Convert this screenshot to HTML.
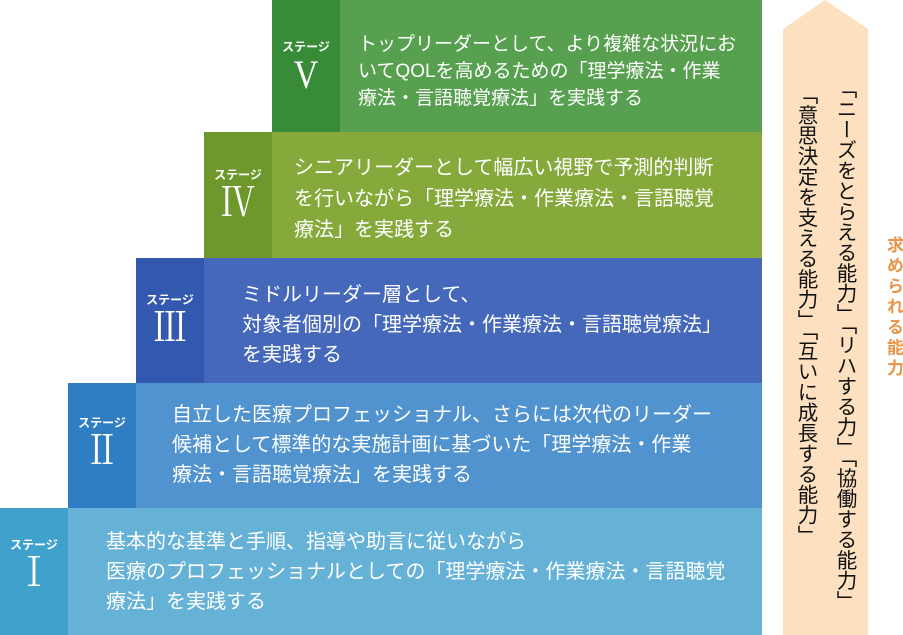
<!DOCTYPE html>
<html><head><meta charset="utf-8"><style>
body{margin:0;width:903px;height:635px;background:#fff;position:relative;overflow:hidden;font-family:"Liberation Sans","Noto Sans CJK JP",sans-serif;}
.b{position:absolute;}
.lab{position:absolute;color:#fff;text-align:center;}
.lab .s{font-size:12px;font-weight:bold;}
.lab .r{font-family:"Liberation Serif","Noto Serif CJK SC",serif;font-size:40px;line-height:40px;transform:scaleX(0.85);}
.tx{position:absolute;color:#fff;font-size:20px;line-height:30px;white-space:nowrap;}
.v{position:absolute;writing-mode:vertical-rl;font-size:20.5px;line-height:21px;color:#111;white-space:nowrap;}
</style></head><body>
<div class="b" style="left:340px;top:0;width:422px;height:132px;background:#56a04f"></div>
<div class="b" style="left:272px;top:0;width:68px;height:132px;background:#388c38"></div>
<div class="lab" style="left:272px;top:38px;width:68px"><div class="s">ステージ</div><div class="r">V</div></div>
<div class="tx" style="left:358px;top:31px;font-size:19px;line-height:27px">トップリーダーとして、より複雑な状況にお<br>いてQOLを高めるための「理学療法・作業<br>療法・言語聴覚療法」を実践する</div>

<div class="b" style="left:272px;top:132px;width:490px;height:126px;background:#86a93c"></div>
<div class="b" style="left:204px;top:132px;width:68px;height:126px;background:#6e982c"></div>
<div class="lab" style="left:204px;top:166px;width:68px"><div class="s">ステージ</div><div class="r">Ⅳ</div></div>
<div class="tx" style="left:294px;top:153px;line-height:31px">シニアリーダーとして幅広い視野で予測的判断<br>を行いながら「理学療法・作業療法・言語聴覚<br>療法」を実践する</div>

<div class="b" style="left:204px;top:258px;width:558px;height:125px;background:#4568bb"></div>
<div class="b" style="left:136px;top:258px;width:68px;height:125px;background:#3358b0"></div>
<div class="lab" style="left:136px;top:291px;width:68px"><div class="s">ステージ</div><div class="r">Ⅲ</div></div>
<div class="tx" style="left:242px;top:280px">ミドルリーダー層として、<br>対象者個別の「理学療法・作業療法・言語聴覚療法」<br>を実践する</div>

<div class="b" style="left:136px;top:383px;width:626px;height:125px;background:#5093cf"></div>
<div class="b" style="left:68px;top:383px;width:68px;height:125px;background:#2f7ec3"></div>
<div class="lab" style="left:68px;top:414px;width:68px"><div class="s">ステージ</div><div class="r">Ⅱ</div></div>
<div class="tx" style="left:172px;top:400px">自立した医療プロフェッショナル、さらには次代のリーダー<br>候補として標準的な実施計画に基づいた「理学療法・作業<br>療法・言語聴覚療法」を実践する</div>

<div class="b" style="left:68px;top:508px;width:694px;height:127px;background:#65b2d6"></div>
<div class="b" style="left:0;top:508px;width:68px;height:127px;background:#40a1cd"></div>
<div class="lab" style="left:0;top:536px;width:68px"><div class="s">ステージ</div><div class="r">Ⅰ</div></div>
<div class="tx" style="left:106px;top:527px">基本的な基準と手順、指導や助言に従いながら<br>医療のプロフェッショナルとしての「理学療法・作業療法・言語聴覚<br>療法」を実践する</div>

<svg class="b" style="left:0;top:0" width="903" height="635"><polygon points="825,0 868,29 868,635 783,635 783,29" fill="#fde0c0"/></svg>
<div class="v" style="left:834px;top:78px">「ニーズをとらえる能力」「リハする力」「協働する能力」</div>
<div class="v" style="left:795px;top:84px">「意思決定を支える能力」「互いに成長する能力」</div>
<div class="v" style="left:884px;top:236px;font-size:17px;line-height:18px;letter-spacing:3.5px;color:#e8954a;font-weight:bold">求められる能力</div>
</body></html>
